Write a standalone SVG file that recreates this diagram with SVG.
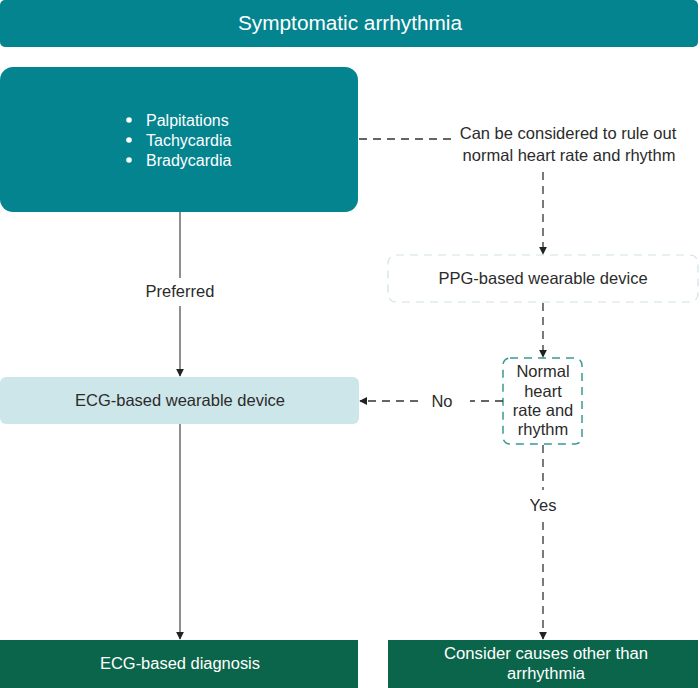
<svg xmlns="http://www.w3.org/2000/svg" width="700" height="688" viewBox="0 0 700 688">
<style>
text{font-family:"Liberation Sans",Arial,sans-serif;}
.w{fill:#ffffff;}
.d{fill:#2b2b2b;}
.solid{stroke:#444;stroke-width:1.2;fill:none;}
.dash{stroke:#333;stroke-width:1.3;fill:none;stroke-dasharray:8,6;}
</style>
<defs>
<marker id="ah" viewBox="0 0 10 10" refX="9" refY="5" markerWidth="8" markerHeight="8" markerUnits="userSpaceOnUse" orient="auto">
<path d="M0,0 L10,5 L0,10 z" fill="#222"/>
</marker>
</defs>
<rect width="700" height="688" fill="#ffffff"/>
<g id="title">
<rect x="0" y="0" width="698" height="47" rx="5" fill="#04848f"/>
<text x="350" y="30" font-size="20" text-anchor="middle" class="w" textLength="224" lengthAdjust="spacingAndGlyphs">Symptomatic arrhythmia</text>
</g>
<g id="symptoms">
<rect x="0" y="67" width="358" height="145" rx="13" fill="#04848f"/>
<circle cx="129" cy="120" r="2.8" fill="#fff"/>
<circle cx="129" cy="140" r="2.8" fill="#fff"/>
<circle cx="129" cy="160" r="2.8" fill="#fff"/>
<text x="146" y="126" font-size="16" class="w">Palpitations</text>
<text x="146" y="146" font-size="16" class="w">Tachycardia</text>
<text x="146" y="166" font-size="16" class="w">Bradycardia</text>
</g>
<g id="rule-out-label">
<text x="568" y="139" font-size="16.5" text-anchor="middle" class="d">Can be considered to rule out</text>
<text x="569" y="161" font-size="16.5" text-anchor="middle" class="d">normal heart rate and rhythm</text>
</g>
<g id="ppg">
<rect x="388" y="255" width="310" height="47" rx="8" fill="#ffffff" stroke="#cfe2e6" stroke-width="1.2" stroke-dasharray="8,6"/>
<text x="543" y="284" font-size="16.5" text-anchor="middle" class="d">PPG-based wearable device</text>
</g>
<g id="normal">
<rect x="503" y="358" width="79" height="86" rx="7" fill="#ffffff" stroke="#3a9896" stroke-width="1.5" stroke-dasharray="8,6"/>
<text x="543" y="377" font-size="16.5" text-anchor="middle" class="d">Normal</text>
<text x="543" y="397" font-size="16.5" text-anchor="middle" class="d">heart</text>
<text x="543" y="416" font-size="16.5" text-anchor="middle" class="d">rate and</text>
<text x="543" y="435" font-size="16.5" text-anchor="middle" class="d">rhythm</text>
</g>
<g id="ecg-device">
<rect x="0" y="377" width="359" height="47" rx="6" fill="#cde6ea"/>
<text x="180" y="406" font-size="16.5" text-anchor="middle" class="d">ECG-based wearable device</text>
</g>
<g id="ecg-diagnosis">
<rect x="0" y="640" width="358" height="48" fill="#0b654a"/>
<text x="180" y="669" font-size="16" text-anchor="middle" class="w" textLength="160" lengthAdjust="spacingAndGlyphs">ECG-based diagnosis</text>
</g>
<g id="other-causes">
<rect x="388" y="640" width="310" height="48" fill="#0b654a"/>
<text x="546" y="659" font-size="16" text-anchor="middle" class="w" textLength="204" lengthAdjust="spacingAndGlyphs">Consider causes other than</text>
<text x="546" y="679" font-size="16" text-anchor="middle" class="w" textLength="78" lengthAdjust="spacingAndGlyphs">arrhythmia</text>
</g>
<g id="connectors">
<line class="solid" x1="180" y1="212" x2="180" y2="278"/>
<text x="180" y="297" font-size="16.5" text-anchor="middle" class="d">Preferred</text>
<line class="solid" x1="180" y1="306" x2="180" y2="376" marker-end="url(#ah)"/>
<line class="solid" x1="180" y1="424" x2="180" y2="639" marker-end="url(#ah)"/>
<line class="dash" x1="359" y1="139" x2="455" y2="139"/>
<line class="dash" x1="543" y1="172" x2="543" y2="254" marker-end="url(#ah)"/>
<line class="dash" x1="543" y1="303" x2="543" y2="357" marker-end="url(#ah)"/>
<line class="dash" x1="503" y1="401" x2="470" y2="401"/>
<text x="442" y="407" font-size="16.5" text-anchor="middle" class="d">No</text>
<line class="dash" x1="418" y1="401" x2="360" y2="401" marker-end="url(#ah)"/>
<line class="dash" x1="543" y1="445" x2="543" y2="490"/>
<text x="543" y="511" font-size="16.5" text-anchor="middle" class="d">Yes</text>
<line class="dash" x1="543" y1="522" x2="543" y2="639" marker-end="url(#ah)"/>
</g>
</svg>
